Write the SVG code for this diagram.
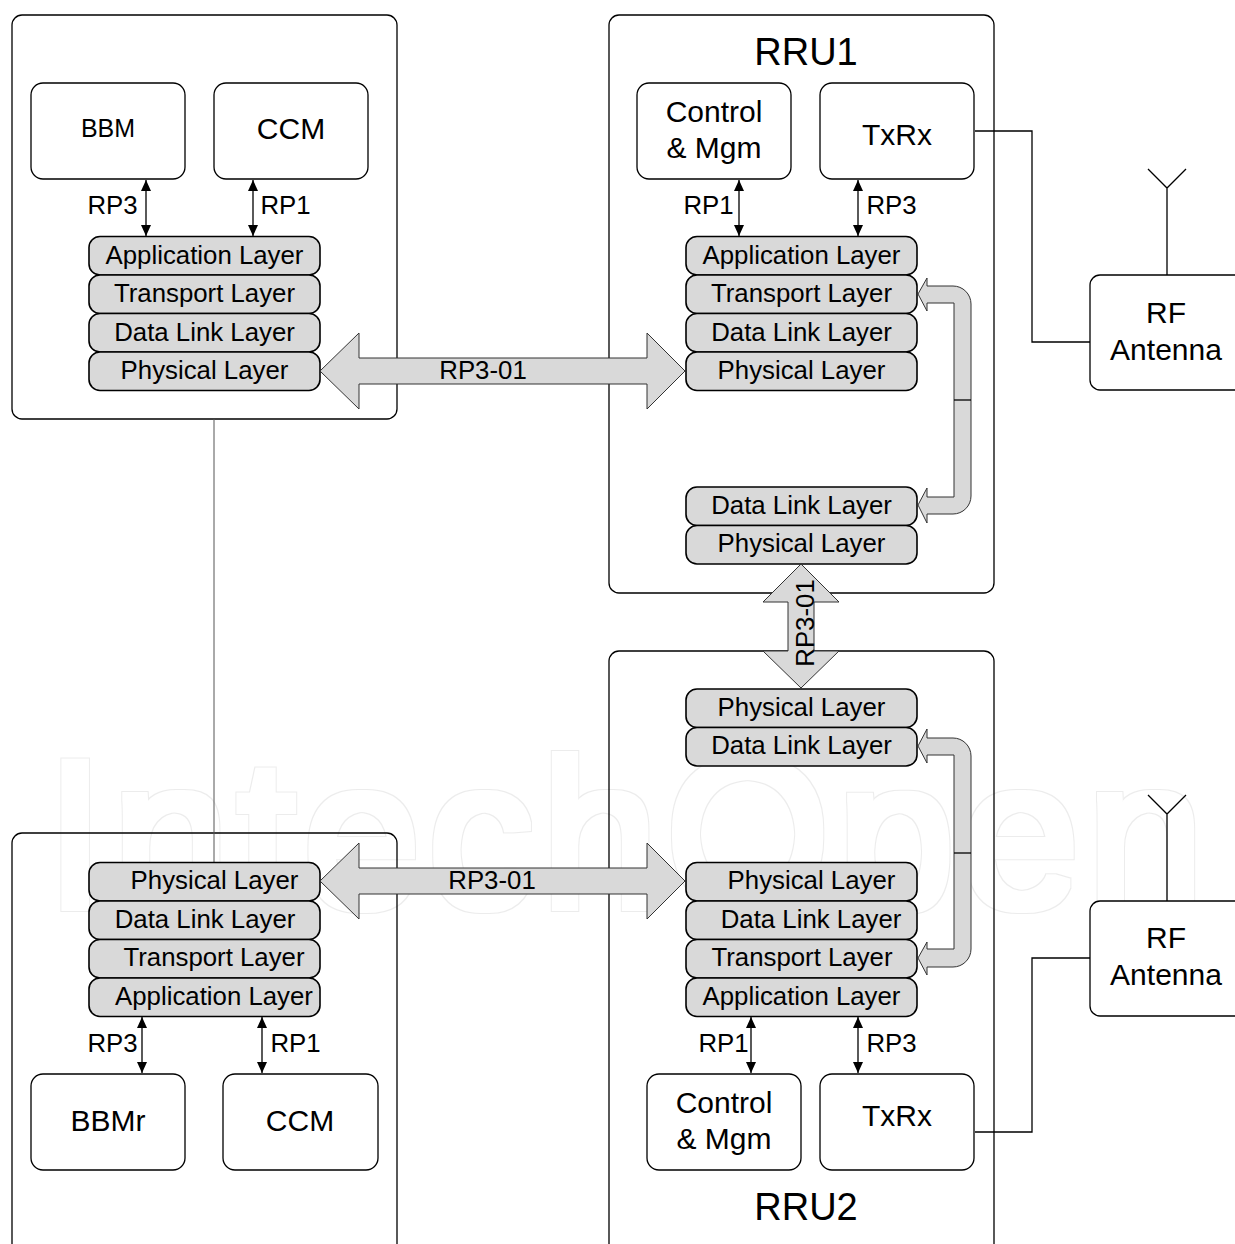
<svg xmlns="http://www.w3.org/2000/svg" width="1235" height="1244" viewBox="0 0 1235 1244">
<style>
text{font-family:"Liberation Sans",Arial,sans-serif;fill:#000;text-anchor:middle}
.l{font-size:25.8px}.m{font-size:30px}.h{font-size:38px}
text.wm{font-size:210px;letter-spacing:8px;fill:#000;text-anchor:start;filter:url(#hollow)}
.frame{fill:none;stroke:#000;stroke-width:1.3}
.box{fill:#fff;stroke:#000;stroke-width:1.3}
.lay{fill:#d9d9d9;stroke:#000;stroke-width:1.6}
.fat{fill:#d9d9d9;stroke:#333;stroke-width:1;stroke-linejoin:miter}
.ln{fill:none;stroke:#000;stroke-width:1.3}
.dbl{fill:none;stroke:#000;stroke-width:1.3;marker-start:url(#a);marker-end:url(#a)}
</style>
<defs>
<marker id="a" markerUnits="userSpaceOnUse" markerWidth="12" markerHeight="12" refX="11" refY="5" orient="auto-start-reverse"><path d="M0 0L11 5L0 10Z" fill="#000"/></marker>
<symbol id="s" overflow="visible"><rect class="lay" width="231" height="38.5" rx="11"/></symbol>
<filter id="hollow" x="0" y="0" width="1235" height="1244" filterUnits="userSpaceOnUse" color-interpolation-filters="sRGB">
<feMorphology in="SourceAlpha" operator="dilate" radius="5" result="o"/>
<feMorphology in="SourceAlpha" operator="dilate" radius="4" result="i"/>
<feComposite in="o" in2="i" operator="out" result="edge"/>
<feFlood flood-color="#ececec"/>
<feComposite in2="edge" operator="in"/>
</filter>
</defs>
<rect width="1235" height="1244" fill="#fff"/>
<text id="watermark" class="wm" x="46" y="907">IntechOpen</text>

<g id="bbu1"><rect class="frame" x="12" y="15" width="385" height="404" rx="10"/></g>
<g id="rru1"><rect class="frame" x="609" y="15" width="385" height="578" rx="10"/><text class="h" x="806" y="65">RRU1</text></g>
<g id="rru2"><rect class="frame" x="609" y="651" width="385" height="610" rx="10"/><text class="h" x="806" y="1220">RRU2</text></g>
<g id="bbu2"><rect class="frame" x="12" y="833" width="385" height="428" rx="10"/></g>

<g id="connectors">
<path d="M214 419V862" fill="none" stroke="#555" stroke-width="1"/>
<path class="ln" d="M975 131H1032V342H1090"/>
<path class="ln" d="M975 1132H1032V958H1090"/>
<path class="ln" d="M1167 275V188M1148 169L1167 188L1186 169"/>
<path class="ln" d="M1167 901V814M1148 795L1167 814L1186 795"/>
<path class="dbl" d="M146 180V236"/><path class="dbl" d="M253 180V236"/>
<path class="dbl" d="M739 180V236"/><path class="dbl" d="M858 180V236"/>
<path class="dbl" d="M142 1017V1073"/><path class="dbl" d="M262 1017V1073"/>
<path class="dbl" d="M751 1017V1073"/><path class="dbl" d="M858 1017V1073"/>
</g>

<g id="bbm"><rect class="box" x="31" y="83" width="154" height="96" rx="12"/><text x="108" y="137" font-size="25">BBM</text></g>
<g id="ccm1"><rect class="box" x="214" y="83" width="154" height="96" rx="12"/><text class="m" x="291" y="139">CCM</text></g>
<g id="control1"><rect class="box" x="637" y="83" width="154" height="96" rx="12"/><text class="m" x="714" y="122">Control</text><text class="m" x="714" y="158">&amp; Mgm</text></g>
<g id="txrx1"><rect class="box" x="820" y="83" width="154" height="96" rx="12"/><text class="m" x="897" y="145">TxRx</text></g>
<g id="bbmr"><rect class="box" x="31" y="1074" width="154" height="96" rx="12"/><text class="m" x="108" y="1131">BBMr</text></g>
<g id="ccm2"><rect class="box" x="223" y="1074" width="155" height="96" rx="12"/><text class="m" x="300" y="1131">CCM</text></g>
<g id="control2"><rect class="box" x="647" y="1074" width="154" height="96" rx="12"/><text class="m" x="724" y="1113">Control</text><text class="m" x="724" y="1149">&amp; Mgm</text></g>
<g id="txrx2"><rect class="box" x="820" y="1074" width="154" height="96" rx="12"/><text class="m" x="897" y="1126">TxRx</text></g>

<g id="rf1"><rect class="box" x="1090" y="275" width="165" height="115" rx="10"/><text class="m" x="1166" y="323">RF</text><text class="m" x="1166" y="360">Antenna</text></g>
<g id="rf2"><rect class="box" x="1090" y="901" width="165" height="115" rx="10"/><text class="m" x="1166" y="948">RF</text><text class="m" x="1166" y="985">Antenna</text></g>

<g id="stack-bbu1">
<use href="#s" x="89" y="236.5"/><use href="#s" x="89" y="275"/><use href="#s" x="89" y="313.5"/><use href="#s" x="89" y="352"/>
<text class="l" x="204.5" y="264">Application Layer</text><text class="l" x="204.5" y="302">Transport Layer</text><text class="l" x="204.5" y="341">Data Link Layer</text><text class="l" x="204.5" y="379">Physical Layer</text>
</g>
<g id="stack-rru1">
<use href="#s" x="686" y="236.5"/><use href="#s" x="686" y="275"/><use href="#s" x="686" y="313.5"/><use href="#s" x="686" y="352"/>
<text class="l" x="801.5" y="264">Application Layer</text><text class="l" x="801.5" y="302">Transport Layer</text><text class="l" x="801.5" y="341">Data Link Layer</text><text class="l" x="801.5" y="379">Physical Layer</text>
</g>
<g id="stack-rru1-lower">
<use href="#s" x="686" y="487"/><use href="#s" x="686" y="525.5"/>
<text class="l" x="801.5" y="514">Data Link Layer</text><text class="l" x="801.5" y="552">Physical Layer</text>
</g>
<g id="stack-rru2-upper">
<use href="#s" x="686" y="689"/><use href="#s" x="686" y="727.5"/>
<text class="l" x="801.5" y="716">Physical Layer</text><text class="l" x="801.5" y="754">Data Link Layer</text>
</g>
<g id="stack-bbu2">
<use href="#s" x="89" y="862.5"/><use href="#s" x="89" y="901"/><use href="#s" x="89" y="939.5"/><use href="#s" x="89" y="978"/>
<text class="l" x="214.5" y="889">Physical Layer</text><text class="l" x="205" y="928">Data Link Layer</text><text class="l" x="214" y="966">Transport Layer</text><text class="l" x="214" y="1005">Application Layer</text>
</g>
<g id="stack-rru2">
<use href="#s" x="686" y="862.5"/><use href="#s" x="686" y="901"/><use href="#s" x="686" y="939.5"/><use href="#s" x="686" y="978"/>
<text class="l" x="811.5" y="889">Physical Layer</text><text class="l" x="811" y="928">Data Link Layer</text><text class="l" x="802" y="966">Transport Layer</text><text class="l" x="801.5" y="1005">Application Layer</text>
</g>

<g id="fat-arrows">
<path class="fat" d="M320 371L359 333V358H647V333L685 371L647 409V384H359V409Z"/>
<path class="fat" d="M320 881L359 843V868H647V843L685 881L647 919V894H359V919Z"/>
<path class="fat" d="M801 564L839 602H814V651H839L801 688L763 651H788V602H763Z"/>
<path class="fat" d="M918 294L927 278V286H953A18 18 0 0 1 971 304V496A18 18 0 0 1 953 514H927V523L918 505L927 488V497H954V303H927V311Z"/>
<path class="ln" d="M954 400H971" stroke-width="1"/>
<path class="fat" d="M918 746L927 729V738H953A18 18 0 0 1 971 756V949A18 18 0 0 1 953 967H927V975L918 958L927 942V949H954V755H927V763Z"/>
<path class="ln" d="M954 853H971" stroke-width="1"/>
</g>

<g id="labels">
<text class="l" x="112.5" y="214">RP3</text><text class="l" x="285.5" y="214">RP1</text>
<text class="l" x="708.5" y="214">RP1</text><text class="l" x="891.5" y="214">RP3</text>
<text class="l" x="112.5" y="1052">RP3</text><text class="l" x="295.5" y="1052">RP1</text>
<text class="l" x="723.5" y="1052">RP1</text><text class="l" x="891.5" y="1052">RP3</text>
<text class="l" x="483" y="379">RP3-01</text><text class="l" x="492" y="889">RP3-01</text>
<text class="l" transform="translate(814 623) rotate(-90)">RP3-01</text>
</g>
</svg>
